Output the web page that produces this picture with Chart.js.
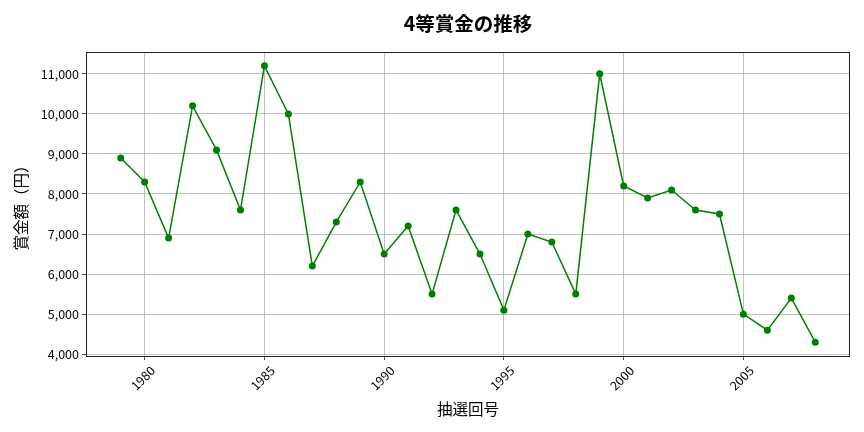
<!DOCTYPE html>
<html>
<head>
<meta charset="utf-8">
<script src="https://cdn.jsdelivr.net/npm/chart.js@4"></script>
<style>
  html, body { margin: 0; padding: 0; background: #fff; }
  #wrap { width: 864px; height: 432px; }
</style>
</head>
<body>
<div id="wrap"><canvas id="prizeChart" width="864" height="432"></canvas></div>
<script>
// 抽選回号 (x) and 4等賞金 (y)
const years = [1979, 1980, 1981, 1982, 1983, 1984, 1985, 1986, 1987, 1988,
               1989, 1990, 1991, 1992, 1993, 1994, 1995, 1996, 1997, 1998,
               1999, 2000, 2001, 2002, 2003, 2004, 2005, 2006, 2007, 2008];
const prizes = [8900, 8300, 6900, 10200, 9100, 7600, 11200, 10000, 6200, 7300,
                8300, 6500, 7200, 5500, 7600, 6500, 5100, 7000, 6800, 5500,
                11000, 8200, 7900, 8100, 7600, 7500, 5000, 4600, 5400, 4300];
const xTicks = [1980, 1985, 1990, 1995, 2000, 2005];
const yTicks = [4000, 5000, 6000, 7000, 8000, 9000, 10000, 11000];

const FONT = '"Noto Sans CJK JP", "Noto Sans", sans-serif';

// matplotlib-like frame round the plot area
const frame = {
    id: 'frame',
    afterDraw(chart) {
        const { ctx, chartArea: a } = chart;
        ctx.save();
        ctx.strokeStyle = '#222';
        ctx.lineWidth = 1;
        ctx.strokeRect(a.left + 0.5, a.top + 0.5, a.right - a.left - 1, a.bottom - a.top);
        ctx.restore();
    }
};

const points = years.map((y, i) => ({ x: y, y: prizes[i] }));

new Chart(document.getElementById('prizeChart'), {
    type: 'line',
    data: {
        datasets: [{
            data: points,
            borderColor: '#008000',
            backgroundColor: '#008000',
            borderWidth: 1.5,
            pointRadius: 3.5,
            pointHoverRadius: 3.5,
            pointBorderWidth: 0,
            tension: 0
        }]
    },
    options: {
        responsive: false,
        animation: false,
        devicePixelRatio: 1,
        layout: { padding: { left: 0, right: 14, top: 0, bottom: 0 } },
        plugins: {
            legend: { display: false },
            tooltip: { enabled: false },
            title: {
                display: true,
                fullSize: false,
                text: '4等賞金の推移',
                color: '#000',
                font: { family: FONT, size: 19.5, weight: 'bold' },
                padding: { top: 12, bottom: 16.6 }
            }
        },
        scales: {
            x: {
                type: 'linear',
                min: 1977.55,
                max: 2009.45,
                afterBuildTicks(scale) { scale.ticks = xTicks.map(v => ({ value: v })); },
                afterFit(scale) { scale.height = 76; },
                ticks: {
                    color: '#000',
                    font: { family: FONT, size: 12.5 },
                    maxRotation: 45,
                    minRotation: 45,
                    padding: 3,
                    labelOffset: 8,
                    callback: v => String(v)
                },
                grid: { color: '#b0b0b0', lineWidth: 0.8, tickLength: 4, tickColor: '#222' },
                border: { display: false },
                title: {
                    display: true,
                    text: '抽選回号',
                    color: '#000',
                    font: { family: FONT, size: 15.5 },
                    padding: { top: 0, bottom: 14 }
                }
            },
            y: {
                type: 'linear',
                min: 3955,
                max: 11545,
                afterBuildTicks(scale) { scale.ticks = yTicks.map(v => ({ value: v })); },
                afterFit(scale) { scale.width = 86; },
                ticks: {
                    color: '#000',
                    font: { family: FONT, size: 12.5 },
                    padding: 3,
                    callback: v => v.toLocaleString('en-US')
                },
                grid: { color: '#b0b0b0', lineWidth: 0.8, tickLength: 4, tickColor: '#222' },
                border: { display: false },
                title: {
                    display: true,
                    text: '賞金額（円）',
                    color: '#000',
                    font: { family: FONT, size: 15.5 },
                    padding: { top: 12, bottom: 0 }
                }
            }
        }
    },
    plugins: [frame]
});
</script>
</body>
</html>
